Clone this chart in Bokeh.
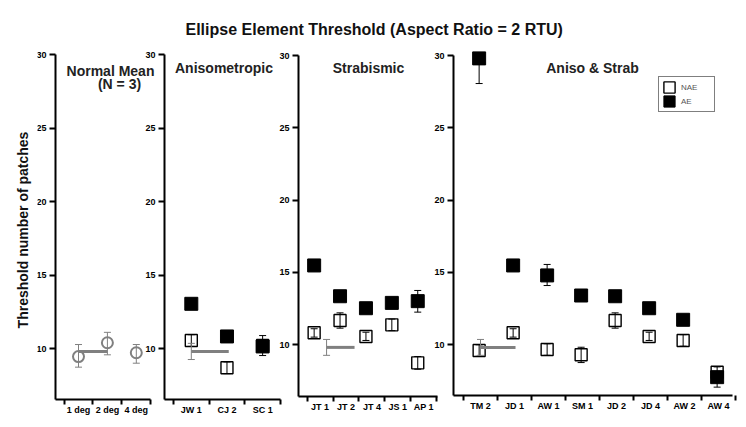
from bokeh.plotting import figure
from bokeh.models import (Range1d, LinearAxis, FixedTicker, Title, Legend, LegendItem,
                          ColumnDataSource)
from bokeh.core.properties import value
from bokeh.transform import dodge
from bokeh.embed import file_html
from bokeh.resources import INLINE

# ---------------- data ----------------
normal_labels = ["1 deg", "2 deg", "4 deg"]
normal_val = [9.45, 10.39, 9.71]
normal_lo = [8.73, 9.57, 9.00]
normal_hi = [10.27, 11.10, 10.27]

aniso_labels = ["JW 1", "CJ 2", "SC 1"]
aniso_nae = [10.54, 8.69, 10.20]
aniso_nae_lo = [10.14, 8.29, 9.85]
aniso_nae_hi = [10.94, 9.09, 10.55]
aniso_ae = [13.04, 10.82, 10.14]
aniso_ae_lo = [12.74, 10.52, 9.52]
aniso_ae_hi = [13.34, 11.12, 10.88]

strab_labels = ["JT 1", "JT 2", "JT 4", "JS 1", "AP 1"]
strab_nae = [10.81, 11.66, 10.55, 11.36, 8.73]
strab_nae_lo = [10.51, 11.13, 10.28, 10.96, 8.29]
strab_nae_hi = [11.09, 12.19, 10.85, 11.76, 9.17]
strab_ae = [15.47, 13.34, 12.51, 12.88, 13.00]
strab_ae_lo = [15.17, 13.04, 12.21, 12.58, 12.24]
strab_ae_hi = [15.77, 13.64, 12.81, 13.18, 13.74]

both_labels = ["TM 2", "JD 1", "AW 1", "SM 1", "JD 2", "JD 4", "AW 2", "AW 4"]
both_nae = [9.58, 10.81, 9.65, 9.29, 11.66, 10.55, 10.28, 8.08]
both_nae_lo = [9.18, 10.51, 9.25, 8.75, 11.13, 10.28, 9.88, 7.70]
both_nae_hi = [9.98, 11.09, 10.05, 9.81, 12.19, 10.85, 10.68, 8.45]
both_ae = [29.80, 15.47, 14.78, 13.39, 13.34, 12.51, 11.71, 7.74]
both_ae_lo = [28.06, 15.17, 14.08, 13.09, 13.04, 12.21, 11.41, 7.05]
both_ae_hi = [30.10, 15.77, 15.54, 13.69, 13.64, 12.81, 12.01, 8.04]

norm_mean = 9.8
norm_mean_lo = 9.25
norm_mean_hi = 10.35

y_ticks = [10, 15, 20, 25, 30]

# ---------------- layout constants (page px) ----------------
FONT = "Liberation Sans"
GRAY = "#808080"
ORIGIN = 0
W, H = 738, 419
FRAME_L, FRAME_R, FRAME_T, FRAME_B = 37, 738, 40, 419

panels = [
    dict(labels=normal_labels, c0=78.0, dx=28.9, y30=54.0, y10=348.0, axis_x=55.0,
         x_end=149.5, base=399.0, shift=0.0,
         titles=[("Normal Mean", 110, 70), ("(N = 3)", 119, 83)],
         mean=(0.0, 1.0, False)),
    dict(labels=aniso_labels, c0=190.8, dx=35.67, y30=54.0, y10=348.0, axis_x=164.0,
         x_end=280.0, base=399.0, shift=0.0,
         titles=[("Anisometropic", 223.5, 67)],
         mean=(0.0, 1.05, True),
         nae=(aniso_nae, aniso_nae_lo, aniso_nae_hi), ae=(aniso_ae, aniso_ae_lo, aniso_ae_hi)),
    dict(labels=strab_labels, c0=319.6, dx=25.9, y30=55.0, y10=344.0, axis_x=298.0,
         x_end=437.0, base=396.0, shift=-0.23,
         titles=[("Strabismic", 368, 67)],
         mean=(0.25, 1.33, True),
         nae=(strab_nae, strab_nae_lo, strab_nae_hi), ae=(strab_ae, strab_ae_lo, strab_ae_hi)),
    dict(labels=both_labels, c0=480.0, dx=34.0, y30=55.0, y10=344.0, axis_x=453.0,
         x_end=732.0, base=395.0, shift=-0.04,
         titles=[("Aniso & Strab", 592, 67)],
         mean=(0.0, 1.03, True),
         nae=(both_nae, both_nae_lo, both_nae_hi), ae=(both_ae, both_ae_lo, both_ae_hi)),
]

p = figure(width=W, height=H, x_range=Range1d(0, 1), y_range=Range1d(0, 1),
           x_axis_type=None, y_axis_type=None, toolbar_location=None,
           output_backend="svg",
           min_border_left=FRAME_L - ORIGIN, min_border_right=ORIGIN + W - FRAME_R,
           min_border_top=FRAME_T - ORIGIN, min_border_bottom=ORIGIN + H - FRAME_B)
p.outline_line_color = None

p.title.text = "Ellipse Element Threshold (Aspect Ratio = 2 RTU)"
p.title.align = "left"
p.title.offset = 185 - FRAME_L
p.title.text_font = FONT
p.title.text_font_size = "16px"
p.title.text_font_style = "bold"
p.title.text_color = "#111111"
p.title.standoff = 5

p.add_layout(Title(text="Threshold number of patches", align="center", text_font=FONT,
                   text_font_size="14px", text_font_style="bold", text_color="#111111",
                   standoff=13), "left")

xr, yr = {}, {}
legend_rs = None

for k, pn in enumerate(panels):
    xn, yn = f"x{k}", f"y{k}"
    c0, dx = pn["c0"], pn["dx"]
    s = (pn["y10"] - pn["y30"]) / 20.0
    xv = lambda px: (px - c0) / dx
    yv = lambda py: 30 - (py - pn["y30"]) / s
    xr[xn] = Range1d(xv(FRAME_L), xv(FRAME_R))
    yr[yn] = Range1d(yv(FRAME_B), yv(FRAME_T))
    x_start, x_end = xv(pn["axis_x"]), xv(pn["x_end"])
    y_base = yv(pn["base"])
    n = len(pn["labels"])

    ya = LinearAxis(x_range_name=xn, y_range_name=yn, fixed_location=x_start,
                    bounds=(y_base, 30), ticker=FixedTicker(ticks=y_ticks),
                    major_tick_out=6, major_tick_in=0, minor_tick_out=0, minor_tick_in=0,
                    axis_line_width=2, major_tick_line_width=2, major_label_standoff=3,
                    major_label_text_font=FONT, major_label_text_font_size="9px",
                    major_label_text_font_style="bold", major_label_text_color="black")
    p.add_layout(ya, "left")

    xa = LinearAxis(x_range_name=xn, y_range_name=yn, fixed_location=y_base,
                    bounds=(x_start, x_end + 0.01),
                    ticker=FixedTicker(ticks=list(range(n)),
                                       minor_ticks=[i - 0.5 for i in range(n + 1)]),
                    major_label_overrides={i: lab for i, lab in enumerate(pn["labels"])},
                    major_tick_out=0, major_tick_in=0, minor_tick_out=5, minor_tick_in=0,
                    minor_tick_line_width=2, minor_tick_line_color="black",
                    axis_line_width=2, major_label_standoff=0,
                    major_label_text_font=FONT, major_label_text_font_size="9px",
                    major_label_text_font_style="bold", major_label_text_color="black")
    p.add_layout(xa, "below")

    kw = dict(x_range_name=xn, y_range_name=yn)

    if k == 0:
        src = ColumnDataSource(dict(x=list(range(n)), y=normal_val, lo=normal_lo, hi=normal_hi))
        p.segment(x0="x", y0="lo", x1="x", y1="hi", source=src, line_color=GRAY, line_width=1, **kw)
        p.scatter(x="x", y="lo", source=src, marker="dash", size=7, line_color=GRAY, **kw)
        p.scatter(x="x", y="hi", source=src, marker="dash", size=7, line_color=GRAY, **kw)
        p.scatter(x="x", y="y", source=src, marker="circle", size=11, fill_color=None,
                  line_color=GRAY, line_width=2, **kw)
    else:
        nae, nlo, nhi = pn["nae"]
        ae, alo, ahi = pn["ae"]
        src = ColumnDataSource(dict(x=list(range(n)), nae=nae, nlo=nlo, nhi=nhi,
                                    ae=ae, alo=alo, ahi=ahi))
        X = dodge("x", pn["shift"])
        r_nae = p.rect(x=X, y="nae", width=12, height=12, width_units="screen",
                       height_units="screen", source=src, fill_color="white",
                       line_color="black", line_width=1.4, **kw)
        p.segment(x0=X, y0="nlo", x1=X, y1="nhi", source=src, line_color="black",
                  line_width=1, **kw)
        p.scatter(x=X, y="nlo", source=src, marker="dash", size=7, line_color="black", **kw)
        p.scatter(x=X, y="nhi", source=src, marker="dash", size=7, line_color="black", **kw)
        r_ae = p.rect(x=X, y="ae", width=13, height=13, width_units="screen",
                      height_units="screen", source=src, fill_color="black",
                      line_color="black", line_width=1, **kw)
        p.segment(x0=X, y0="alo", x1=X, y1="ahi", source=src, line_color="black",
                  line_width=1, **kw)
        p.scatter(x=X, y="alo", source=src, marker="dash", size=7, line_color="black", **kw)
        p.scatter(x=X, y="ahi", source=src, marker="dash", size=7, line_color="black", **kw)
        if k == 3:
            legend_rs = (r_nae, r_ae)

    m0, m1, with_err = pn["mean"]
    p.segment(x0=[m0], y0=[norm_mean], x1=[m1], y1=[norm_mean], line_color=GRAY,
              line_width=3, **kw)
    if with_err:
        p.segment(x0=[m0], y0=[norm_mean_lo], x1=[m0], y1=[norm_mean_hi], line_color=GRAY,
                  line_width=1, **kw)
        p.scatter(x=[m0, m0], y=[norm_mean_lo, norm_mean_hi], marker="dash", size=7,
                  line_color=GRAY, **kw)

    for txt, px, py in pn["titles"]:
        p.text(x=[xv(px)], y=[yv(py)], text=[txt], text_font=value(FONT),
               text_font_size="14px", text_font_style="bold", text_align="center",
               text_baseline="middle", text_color="#222222", **kw)

p.extra_x_ranges = xr
p.extra_y_ranges = yr

legend = Legend(items=[LegendItem(label="NAE", renderers=[legend_rs[0]]),
                       LegendItem(label="AE", renderers=[legend_rs[1]])],
                location=(658 - FRAME_L, FRAME_B - 112), orientation="vertical",
                padding=3, spacing=0, margin=0, glyph_width=14, glyph_height=14,
                label_standoff=5, label_width=30, label_height=14,
                label_text_font=FONT, label_text_font_size="8px",
                label_text_color="#555555", border_line_color="black",
                border_line_width=1.5)
p.add_layout(legend)

open("out.html", "w").write(file_html(p, INLINE))
